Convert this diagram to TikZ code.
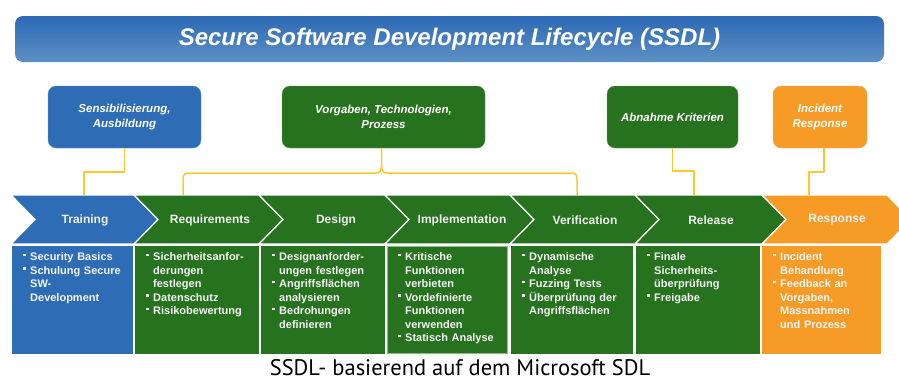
\documentclass[tikz,border=0pt]{standalone}
\usepackage{fontspec}
\setmainfont{Liberation Sans}
\newfontfamily\capfont{PT Sans}
\usetikzlibrary{calc}
\definecolor{sblue}{HTML}{2E6CB5}
\definecolor{sgreen}{HTML}{27721E}
\definecolor{sorange}{HTML}{F79B27}
\definecolor{syellow}{HTML}{FFC72C}
\definecolor{sltgreen}{HTML}{8CC080}
\definecolor{titletop}{HTML}{2D69B5}
\definecolor{titlebot}{HTML}{5C91C3}
\newcommand\bul[1]{\hangindent=7pt\hangafter=1\noindent\makebox[7pt][l]{\rule[4.2pt]{2.6pt}{2.6pt}}#1\par}
\newcommand\chev[3]{%
  \fill[#3,draw=white,line width=1.2pt,line join=miter] (#1,195) -- (#2,195) -- (#2+24,219.5) -- (#2,244) -- (#1,244) -- (#1+24,219.5) -- cycle;}
\tikzset{
  topbox/.style={rounded corners=8pt, inner sep=2pt, align=center, text=white,
    font=\fontsize{11.5}{14.3}\selectfont\bfseries\itshape, minimum height=62pt},
  chlab/.style={text=white!94!black, font=\fontsize{12}{14}\selectfont\bfseries, inner sep=0pt},
  body/.style={anchor=north west, inner sep=0pt, text width=112pt, align=left, text=white!96!black,
    font=\fontsize{11}{13.5}\selectfont\bfseries},
  conn/.style={draw=syellow, line width=1.5pt, line join=round}
}
\begin{document}
\begin{tikzpicture}[x=1pt,y=-1pt]
\useasboundingbox (0,0) rectangle (899,381);
\begin{scope}
\clip (0,0) rectangle (899,381);
% title bar
\shade[top color=titletop, bottom color=titlebot, rounded corners=8pt] (15,16) rectangle (884,62);
\node[text=white, font=\fontsize{24}{28}\selectfont\bfseries\itshape] (title) at (449.5,39.5) {Secure Software Development Lifecycle (SSDL)};
% top boxes
\node[topbox, fill=sblue, draw=sblue!70!white, minimum width=153pt] (sens) at (124.5,117) {Sensibilisierung,\\Ausbildung};
\node[topbox, fill=sgreen, draw=sgreen!70!white, minimum width=203pt] (vorg) at (383.5,117) {Vorgaben, Technologien,\\Prozess};
\node[topbox, fill=sgreen, draw=sgreen!70!white, minimum width=131pt] (abn) at (672.5,117) {Abnahme Kriterien};
\node[topbox, fill=sorange, draw=sorange!70!white, minimum width=94pt] (inc) at (820,117) {Incident\\Response};
% chevrons
\chev{11}{134}{sblue}
\chev{134}{259}{sgreen}
\chev{259}{385}{sgreen}
\chev{385}{510}{sgreen}
\chev{510}{635}{sgreen}
\chev{635}{762}{sgreen}
\chev{762}{887}{sorange}
\coordinate (ctr) at (84,195);
\coordinate (creqL) at (183,195);
\coordinate (cverR) at (577,195);
\coordinate (crel) at (694,195);
\coordinate (cres) at (809,195);
\node[chlab] (tr) at (85,220) {Training};
\node[chlab] (rq) at (210,220) {Requirements};
\node[chlab] (de) at (336,220) {Design};
\node[chlab] (im) at (462,220) {Implementation};
\node[chlab] (ve) at (585,220) {Verification};
\node[chlab] (re) at (711,220) {Release};
\node[chlab] (rs) at (837,220) {Response};
% connectors
\draw[conn] (sens.south) -- ++(0,24) -| (ctr);
\draw[conn] (abn.south) -- ++(0,23) -| (crel);
\draw[conn] ([xshift=4pt]inc.south) -- ++(0,24) -| (cres);
\draw[conn] (creqL) -- (183,180) .. controls (183,175) and (184,173) .. (189,173)
  -- (376,173) .. controls (380,173) and (381.5,171) .. (381.5,165) -- (381.5,148);
\draw[conn] (cverR) -- (577,180) .. controls (577,175) and (576,173) .. (571,173)
  -- (387,173) .. controls (383,173) and (381.5,171) .. (381.5,165);
% content boxes
\fill[sblue] (12,245.5) rectangle (133,354);
\fill[sgreen] (135,245.5) rectangle (259,354);
\fill[sgreen] (261,245.5) rectangle (385,354);
\fill[sgreen, draw=sltgreen, line width=1pt] (387.5,246) rectangle (507,353.5);
\fill[sgreen] (511,245.5) rectangle (633,354);
\fill[sgreen] (636,245.5) rectangle (760,354);
\fill[sorange] (762,245.5) rectangle (881,354);
\node[body] (btr) at (23,252.5) {\bul{Security Basics}\bul{Schulung Secure\newline SW-\newline Development}};
\node[body] (brq) at (146,252.5) {\bul{Sicherheitsanfor-\newline derungen\newline festlegen}\bul{Datenschutz}\bul{Risikobewertung}};
\node[body] (bde) at (272,252.5) {\bul{Designanforder-\newline ungen festlegen}\bul{Angriffsflächen\newline analysieren}\bul{Bedrohungen\newline definieren}};
\node[body] (bim) at (398,252.5) {\bul{Kritische\newline Funktionen\newline verbieten}\bul{Vordefinierte\newline Funktionen\newline verwenden}\bul{Statisch Analyse}};
\node[body] (bve) at (522,252.5) {\bul{Dynamische\newline Analyse}\bul{Fuzzing Tests}\bul{Überprüfung der\newline Angriffsflächen}};
\node[body] (bre) at (647,252.5) {\bul{Finale\newline Sicherheits-\newline überprüfung}\bul{Freigabe}};
\node[body] (brs) at (773,252.5) {\bul{Incident\newline Behandlung}\bul{Feedback an\newline Vorgaben,\newline Massnahmen\newline und Prozess}};
% caption
\node[anchor=base, inner sep=0pt, font=\capfont\fontsize{22.5}{26}\selectfont] (cap) at (460,375.5) {SSDL- basierend auf dem Microsoft SDL};
\end{scope}
\end{tikzpicture}
\end{document}
